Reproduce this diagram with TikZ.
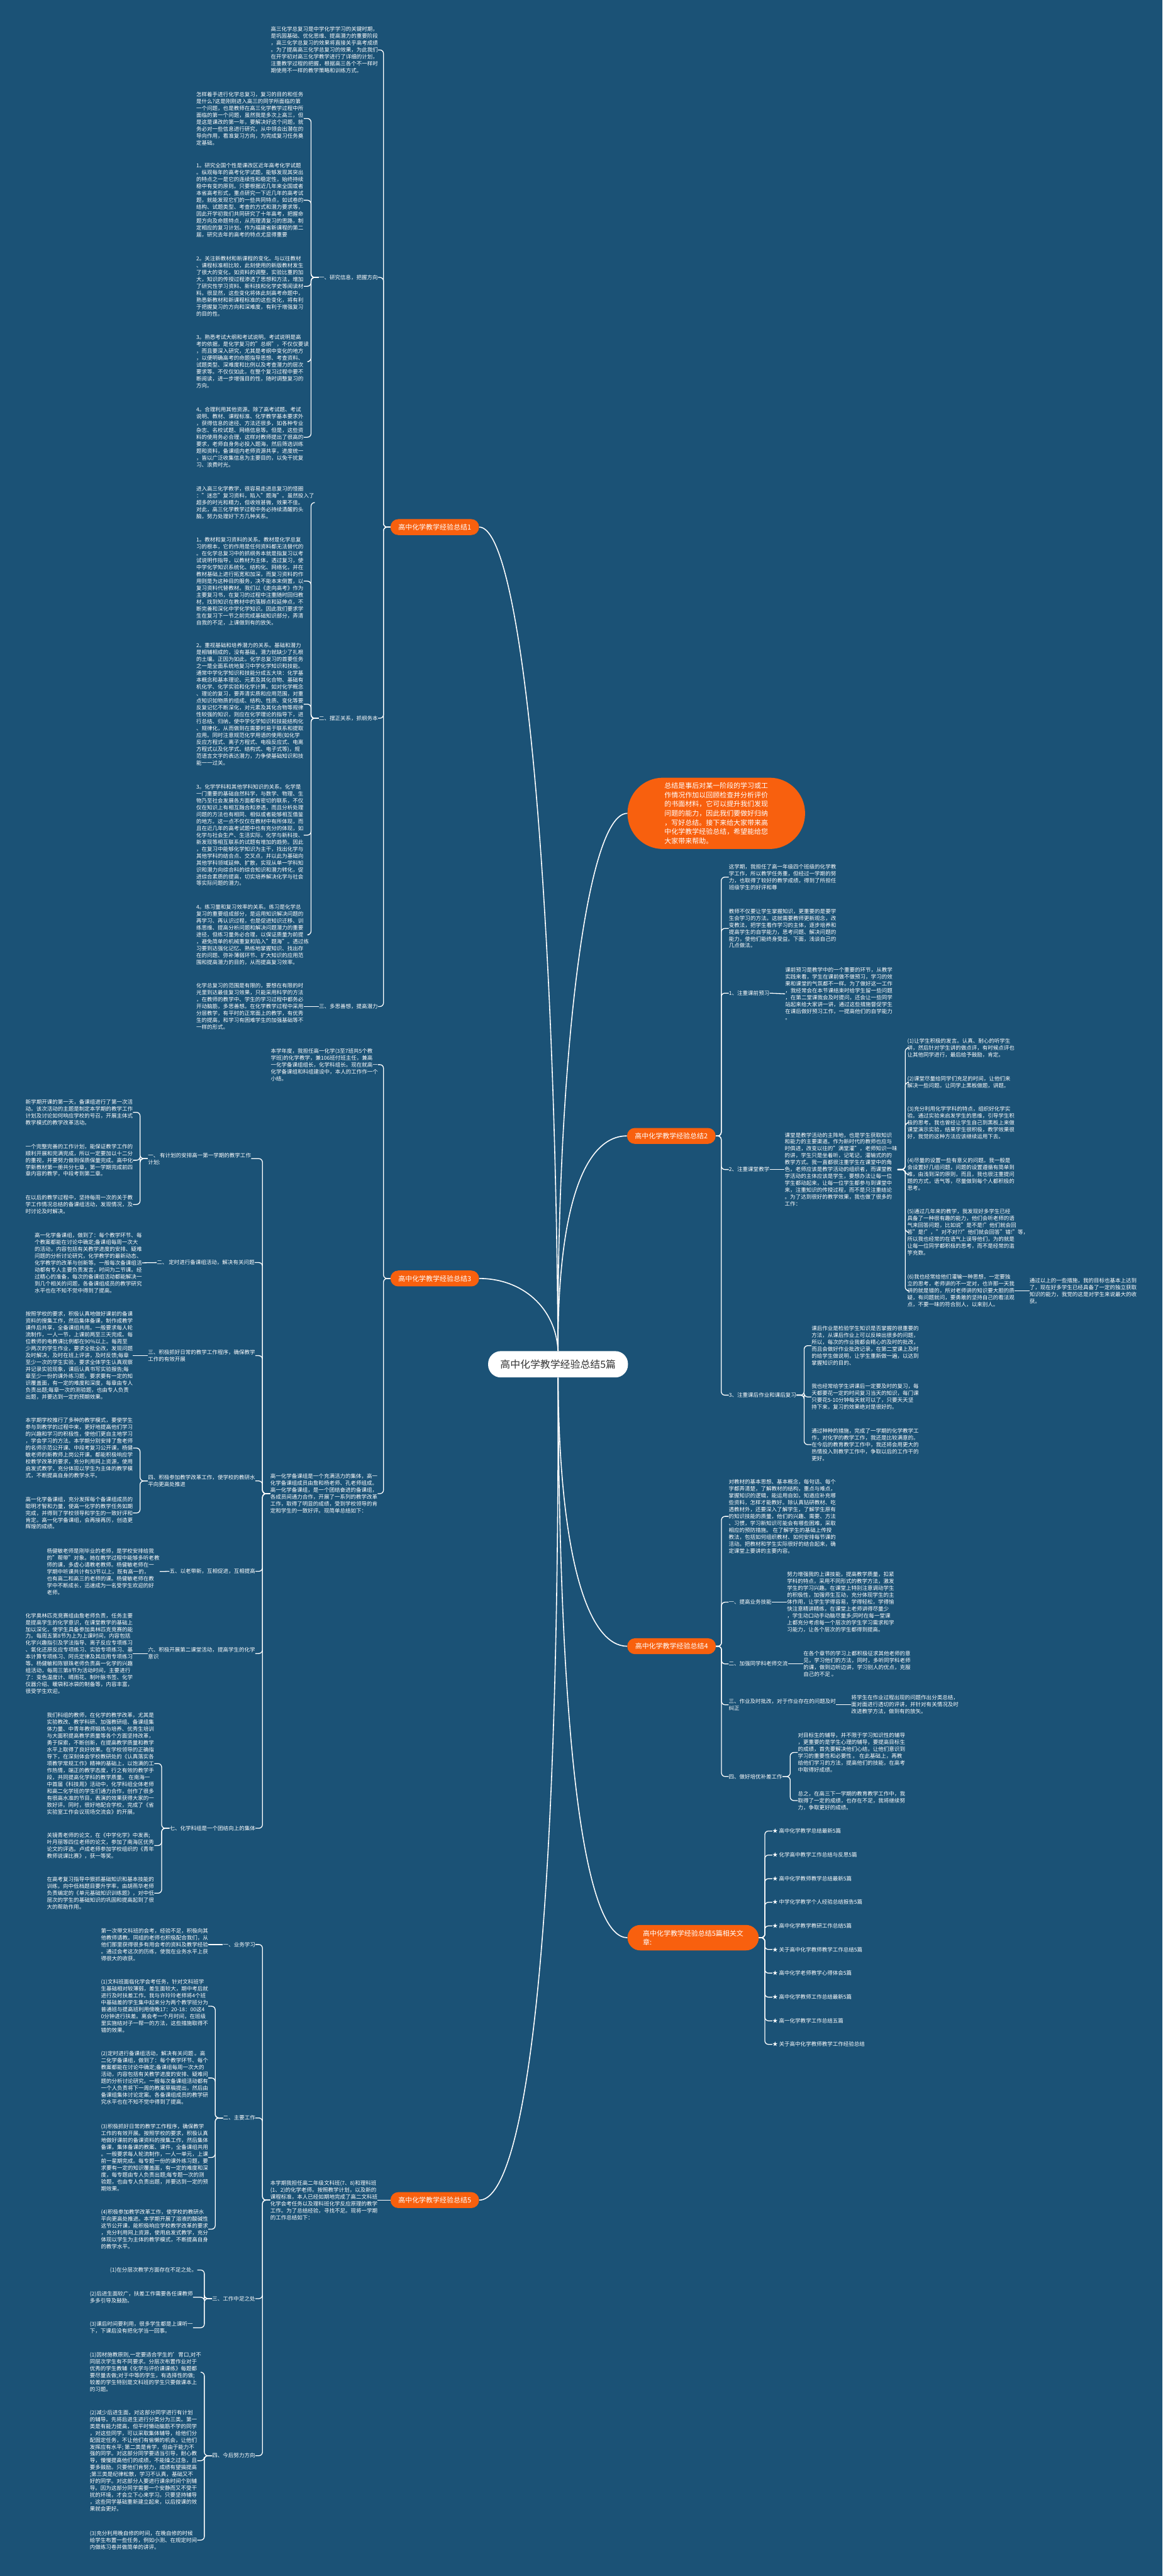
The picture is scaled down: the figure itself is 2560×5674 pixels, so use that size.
\documentclass[tikz,border=0pt]{standalone}
\usepackage{fontspec}
\setmainfont{Noto Sans CJK SC}
\definecolor{bg}{HTML}{1B5276}
\definecolor{org}{HTML}{F8600E}
\newcommand\fs{\fontsize{5.9}{7.6}\selectfont}
\newcommand\fp{\fontsize{7.6}{9.8}\selectfont}
\tikzset{
 txt/.style={font=\fs, text=white, align=left, inner sep=0pt, anchor=west},
 conn/.style={draw=white, line width=0.9pt, rounded corners=4pt},
 mainc/.style={draw=white, line width=1.1pt},
 pill/.style={fill=org, text=white, rounded corners=8.5pt, font=\fp, minimum width=97.5pt, minimum height=17.5pt, inner sep=0pt},
}
\begin{document}
\begin{tikzpicture}[x=0.5pt,y=-0.5pt]
\fill[bg] (0,0) rectangle (2560,5674);
\useasboundingbox (0,0) rectangle (2560,5674);

% centre
\node[fill=white, text=black!80, rounded corners=14pt, minimum width=154pt, minimum height=29pt, inner sep=0pt, font=\fontsize{11}{13}\selectfont] (C) at (1229,3005) {高中化学教学经验总结5篇};

% main branches
\node[pill] (S1) at (957.5,1161) {高中化学教学经验总结1};
\node[pill] (S2) at (1478.5,2502) {高中化学教学经验总结2};
\node[pill] (S3) at (957.5,2816) {高中化学教学经验总结3};
\node[pill] (S4) at (1479,3626) {高中化学教学经验总结4};
\node[pill] (S5) at (957.5,4846) {高中化学教学经验总结5};
\node[pill, minimum width=144.5pt, minimum height=28pt, rounded corners=14pt, align=left] (R) at (1526.5,4268) {高中化学教学经验总结5篇相关文\\章:};
\node[fill=org, text=white, rounded corners=39pt, minimum width=195.5pt, minimum height=78.5pt, inner sep=0pt, align=left, font=\fontsize{7.6}{10.1}\selectfont] (N) at (1577.5,1791.5) {总结是事后对某一阶段的学习或工\\作情况作加以回顾检查并分析评价\\的书面材料，它可以提升我们发现\\问题的能力，因此我们要做好归纳\\，写好总结。接下来给大家带来高\\中化学教学经验总结，希望能给您\\大家带来帮助。};

\draw[mainc] (C.north) .. controls (1222,1950) and (1150,1161) .. (S1.east);
\draw[mainc] (C.north) .. controls (1226,2350) and (1290,1791) .. (N.west);
\draw[mainc] (C.north) .. controls (1228,2650) and (1290,2502) .. (S2.west);
\draw[mainc] (C.north) .. controls (1224,2880) and (1150,2816) .. (S3.east);
\draw[mainc] (C.south) .. controls (1232,3450) and (1300,3626) .. (S4.west);
\draw[mainc] (C.south) .. controls (1232,3950) and (1300,4268) .. (R.west);
\draw[mainc] (C.south) .. controls (1232,4350) and (1150,4846) .. (S5.east);

% ================= Section 1
\node[txt] (s1i) at (596,110) {高三化学总复习是中学化学学习的关键时期，\\是巩固基础、优化思维、提高潜力的重要阶段\\，高三化学总复习的效果将直接关乎高考成绩\\。为了提高高三化学总复习的效果，为此我们\\在开学初对高三化学教学进行了详细的计划，\\注重教学过程的把握，根据高三各个不一样时\\期使用不一样的教学策略和训练方式。};
\node[txt] (s1l1) at (702,611) {一、研究信息，把握方向};
\node[txt] (s1l2) at (702,1582) {二、摆正关系，抓纲务本};
\node[txt] (s1l3) at (702,2217) {三、多思善想，提高潜力};
\foreach \c in {s1i,s1l1,s1l2,s1l3} \draw[conn] (S1.west) -- ++(-15,0) |- (\c.east);

\node[txt] (s1l1a) at (432,261) {怎样着手进行化学总复习，复习的目的和任务\\是什么?这是刚刚进入高三的同学所面临的第\\一个问题，也是教师在高三化学教学过程中所\\面临的第一个问题，虽然我是多次上高三，但\\是这是课改的第一年，要解决好这个问题，就\\务必对一些信息进行研究，从中领会出潜在的\\导向作用，看准复习方向，为完成复习任务奠\\定基础。};
\node[txt] (s1l1b) at (432,441) {1。研究全国个性是课改区近年高考化学试题\\。纵观每年的高考化学试题，能够发现其突出\\的特点之一是它的连续性和稳定性，始终持续\\稳中有变的原则。只要根据近几年来全国或者\\本省高考形式，重点研究一下近几年的高考试\\题，就能发现它们的一些共同特点，如试卷的\\结构、试题类型、考查的方式和潜力要求等，\\因此开学初我们共同研究了十年高考，把握命\\题方向及命题特点，从而理清复习的思路，制\\定相应的复习计划。作为福建省新课程的第二\\届，研究去年的高考的特点尤显得重要};
\node[txt] (s1l1c) at (432,630.5) {2。关注新教材和新课程的变化。与以往教材\\、课程标准相比较，此刻使用的新版教材发生\\了很大的变化，如资料的调整，实验比重的加\\大，知识的传授过程渗透了思想和方法，增加\\了研究性学习资料、新科技和化学史等阅读材\\料。很显然，这些变化将体此刻高考命题中，\\熟悉新教材和新课程标准的这些变化，将有利\\于把握复习的方向和深难度，有利于增强复习\\的目的性。};
\node[txt] (s1l1d) at (432,796.5) {3。熟悉考试大纲和考试说明。考试说明是高\\考的依据，是化学复习的"总纲"，不仅仅要读\\，而且要深入研究，尤其是考纲中变化的地方\\，以便明确高考的命题指导思想、考查资料、\\试题类型、深难度和比例以及考查潜力的层次\\要求等。不仅仅如此，在整个复习过程中要不\\断阅读，进一步增强目的性，随时调整复习的\\方向。};
\node[txt] (s1l1e) at (432,963) {4。合理利用其他资源。除了高考试题、考试\\说明、教材、课程标准、化学教学基本要求外\\，获得信息的途径、方法还很多，如各种专业\\杂志、名校试题、网络信息等。但是，这些资\\料的使用务必合理，这样对教师提出了很高的\\要求，老师自身务必投入题海，然后筛选训练\\题和资料，备课组内老师资源共享，进度统一\\，皆以广泛收集信息为主要目的，以免干扰复\\习、浪费时光。};
\foreach \c in {s1l1a,s1l1b,s1l1c,s1l1d,s1l1e} \draw[conn] (s1l1.west) -- ++(-17,0) |- (\c.east);

\node[txt] (s1l2a) at (432,1107) {进入高三化学教学，很容易走进总复习的怪圈\\："迷恋"复习资料，陷入"题海"。虽然投入了\\超多的时光和精力，但收效甚微，效果不佳。\\对此，高三化学教学过程中务必持续清醒的头\\脑，努力处理好下方几种关系。};
\node[txt] (s1l2b) at (432,1280) {1。教材和复习资料的关系。教材是化学总复\\习的根本，它的作用是任何资料都无法替代的\\。在化学总复习中的抓纲务本就是指复习以考\\试说明作指导，以教材为主体，透过复习，使\\中学化学知识系统化、结构化、网络化，并在\\教材基础上进行拓宽和加深，而复习资料的作\\用则是为这种目的服务，决不能本末倒置，以\\复习资料代替教材。我们以《走向高考》作为\\主要复习书，在复习的过程中注重随时回归教\\材，找到知识在教材中的落脚点和延伸点，不\\断完善和深化中学化学知识。因此我们要求学\\生在复习下一节之前完成基础知识部分，弄清\\自我的不足，上课做到有的放矢。};
\node[txt] (s1l2c) at (432,1551) {2。重视基础和培养潜力的关系。基础和潜力\\是相辅相成的，没有基础，潜力就缺少了扎根\\的土壤。正因为如此，化学总复习的首要任务\\之一是全面系统地复习中学化学知识和技能。\\通常中学化学知识和技能分成五大块：化学基\\本概念和基本理论、元素及其化合物、基础有\\机化学、化学实验和化学计算。如对化学概念\\、理论的复习，要弄清实质和应用范围，对重\\点知识如物质的组成、结构、性质、变化等要\\反复记忆不断深化，对元素及其化合物等规律\\性较强的知识，则应在化学理论的指导下，进\\行总结、归纳，使中学化学知识和技能结构化\\、规律化，从而做到在需要时易于联系和提取\\应用。同时注意规范化学用语的使用(如化学\\反应方程式、离子方程式、电极反应式、电离\\方程式以及化学式、结构式、电子式等)，规\\范语言文字的表达潜力，力争使基础知识和技\\能一一过关。};
\node[txt] (s1l2d) at (432,1839.5) {3。化学学科和其他学科知识的关系。化学是\\一门重要的基础自然科学，与数学、物理、生\\物乃至社会发展各方面都有密切的联系，不仅\\仅在知识上有相互融合和渗透，而且分析处理\\问题的方法也有相同、相似或者能够相互借鉴\\的地方。这一点不仅仅在教材中有所体现，而\\且在近几年的高考试题中也有充分的体现，如\\化学与社会生产、生活实际，化学与新科技、\\新发现等相互联系的试题有增加的趋势。因此\\，在复习中能够化学知识为主干，找出化学与\\其他学科的结合点、交叉点，并以此为基础向\\其他学科领域延伸、扩散，实现从单一学科知\\识和潜力向综合科的综合知识和潜力转化，促\\进综合素质的提高，切实培养解决化学与社会\\等实际问题的潜力。};
\node[txt] (s1l2e) at (432,2059) {4。练习量和复习效率的关系。练习是化学总\\复习的重要组成部分，是运用知识解决问题的\\再学习、再认识过程，也是促进知识迁移、训\\练思维、提高分析问题和解决问题潜力的重要\\途径，但练习量务必合理，以保证质量为前提\\，避免简单的机械重复和陷入"题海"。透过练\\习要到达强化记忆、熟练地掌握知识、找出存\\在的问题、弥补薄弱环节、扩大知识的应用范\\围和提高潜力的目的，从而提高复习效率。};
\foreach \c in {s1l2a,s1l2b,s1l2c,s1l2d,s1l2e} \draw[conn] (s1l2.west) -- ++(-17,0) |- (\c.east);

\node[txt] (s1l3a) at (432,2217) {化学总复习的范围是有限的，要想在有限的时\\光里到达最佳复习效果，只能采用科学的方法\\，在教师的教学中、学生的学习过程中都务必\\开动脑筋，多思善想。在化学教学过程中采用\\分层教学，有平时的正常面上的教学，有优秀\\生的提高，和学习有困难学生的加强基础等不\\一样的形式。};
\draw[conn] (s1l3.west) -- (s1l3a.east);

% ================= Section 3
\node[txt] (s3t) at (596,2345) {本学年度，我担任高一化学(3至7班共5个教\\学班)的化学教学，兼106班付班主任，兼高\\一化学备课组组长，化学科组长。现在就高一\\化学备课组和科组建设中，本人的工作作一个\\小结。};
\node[txt] (s3b) at (595,3290) {高一化学备课组是一个充满活力的集体，高一\\化学备课组成员由詹和杨老师、孔老师组成。\\高一化学备课组，是一个团结奋进的备课组，\\各成员间通力合作，开展了一系列的教学改革\\工作，取得了明显的成绩，受到学校领导的肯\\定和学生的一致好评。现简单总结如下：};
\foreach \c in {s3t,s3b} \draw[conn] (S3.west) -- ++(-15,0) |- (\c.east);

\node[txt] (s3l1) at (325.5,2552) {一、 有计划的安排高一第一学期的教学工作\\计划:};
\node[txt] (s3l2) at (345,2781) {二、 定时进行备课组活动，解决有关问题};
\node[txt] (s3l3) at (325.5,2986) {三、积极抓好日常的教学工作程序，确保教学\\工作的有效开展};
\node[txt] (s3l4) at (325.5,3262) {四、积极参加教学改革工作，使学校的教研水\\平向更高处推进};
\node[txt] (s3l5) at (373,3461) {五、以老带新，互相促进，互相提高};
\node[txt] (s3l6) at (325.5,3642) {六、积极开展第二课堂活动，提高学生的化学\\意识};
\node[txt] (s3l7) at (373,4027) {七、化学科组是一个团结向上的集体};
\foreach \c in {s3l1,s3l2,s3l3,s3l4,s3l5,s3l6,s3l7} \draw[conn] (s3b.west) -- ++(-17,0) |- (\c.east);

\node[txt] (s3l1a) at (56,2450) {新学期开课的第一天，备课组进行了第一次活\\动。该次活动的主题是制定本学期的教学工作\\计划及讨论如何响应学校的号召，开展主体式\\教学模式的教学改革活动。};
\node[txt] (s3l1b) at (56,2555.6) {一个完整完善的工作计划，能保证教学工作的\\顺利开展和完满完成，所以一定要加以十二分\\的重视，并要努力做到保质保量完成。高中化\\学新教材第一册共分七章，第一学期完成前四\\章内容的教学，中段考到第二章。};
\node[txt] (s3l1c) at (56,2653) {在以后的教学过程中，坚持每周一次的关于教\\学工作情况总结的备课组活动，发现情况，及\\时讨论及时解决。};
\foreach \c in {s3l1a,s3l1b,s3l1c} \draw[conn] (s3l1.west) -- ++(-17,0) |- (\c.east);

\node[txt] (s3l2a) at (76,2781.5) {高一化学备课组，做到了：每个教学环节、每\\个教案都能在讨论中确定;备课组每周一次大\\的活动，内容包括有关教学进度的安排、疑难\\问题的分析讨论研究，化学教学的最新动态、\\化学教学的改革与创新等。一般每次备课组活\\动都有专人主要负责发言，时间为二节课。经\\过精心的准备，每次的备课组活动都能解决一\\到几个相关的问题，各备课组成员的教学研究\\水平也在不知不觉中得到了提高。};
\draw[conn] (s3l2.west) -- (s3l2a.east);

\node[txt] (s3l3a) at (56,2986) {按照学校的要求，积极认真地做好课前的备课\\资料的搜集工作，然后集体备课，制作成教学\\课件后共享，全备课组共用。一般要求每人轮\\流制作，一人一节，上课前两至三天完成。每\\位教师的电教课比例都在90\%以上。每周至\\少两次的学生作业，要求全批全改，发现问题\\及时解决，及时在班上评讲，及时反馈;每章\\至少一次的学生实验，要求全体学生认真观察\\并记录实验现象，课后认真书写实验报告;每\\章至少一份的课外练习题，要求要有一定的知\\识覆盖面，有一定的难度和深度，每章由专人\\负责出题;每章一次的测验题，也由专人负责\\出题，并要达到一定的预期效果。};
\draw[conn] (s3l3.west) -- (s3l3a.east);

\node[txt] (s3l4a) at (56,3189.5) {本学期学校推行了多种的教学模式，要使学生\\参与到教学的过程中来，更好地提高他们学习\\的兴趣和学习的积极性，使他们更自主地学习\\，学会学习的方法。本学期分别安排了詹老师\\的名师示范公开课、中段考复习公开课，杨健\\敏老师的新教师上岗公开课。都能积极响应学\\校教学改革的要求，充分利用网上资源，使用\\启发式教学，充分体现以学生为主体的教学模\\式，不断提高自身的教学水平。};
\node[txt] (s3l4b) at (56,3332.6) {高一化学备课组，充分发挥每个备课组成员的\\聪明才智和力量，使高一化学的教学任务如期\\完成，并得到了学校领导和学生的一致好评和\\肯定。高一化学备课组，会再接再厉，创造更\\辉煌的成绩。};
\foreach \c in {s3l4a,s3l4b} \draw[conn] (s3l4.west) -- ++(-17,0) |- (\c.east);

\node[txt] (s3l5a) at (103,3461.5) {杨健敏老师是刚毕业的老师，是学校安排给我\\的"帮带"对象。她在教学过程中能够多听老教\\师的课，多虚心请教老教师。杨健敏老师在一\\学期中听课共计有53节以上，既有高一的，\\也有高二和高三的老师的课。杨健敏老师在教\\学中不断成长，迅速成为一名受学生欢迎的好\\老师。};
\draw[conn] (s3l5.west) -- (s3l5a.east);

\node[txt] (s3l6a) at (56,3642) {化学奥林匹克竞赛组由詹老师负责，任务主要\\是提高学生的化学意识，在课堂教学的基础上\\加以深化，使学生具备参加奥林匹克竞赛的能\\力。每周五第8节为上为上课时间，内容包括\\化学兴趣指引及学法指导、离子反应专项练习\\、氧化还原反应专项练习、实验专项练习、基\\本计算专项练习、阿氏定律及其应用专项练习\\等。杨健敏和陈银珠老师负责高一化学的兴趣\\组活动，每周三第8节为活动时间，主要进行\\了：变色温度计、晴雨花、制叶脉书签、化学\\仪器介绍、暖袋和冰袋的制备等，内容丰富，\\很受学生欢迎。};
\draw[conn] (s3l6.west) -- (s3l6a.east);

\node[txt] (s3l7a) at (103,3884.5) {我们科组的教师，在化学的教学改革，尤其是\\实验教改、教学科研、加强教研组、备课组集\\体力量、中青年教师锻炼与培养、优秀生培训\\与大面积提高教学质量等各个方面坚持改革，\\勇于探索，不断创新，在提高教学质量和教学\\水平上取得了良好效果。在学校领导的正确指\\导下，在深刻体会学校教研处的《认真落实各\\项教学常规工作》精神的基础上，以饱满的工\\作热情，端正的教学态度，行之有效的教学手\\段，共同提高化学科的教学质量。 在南海一\\中首届《科技周》活动中，化学科组全体老师\\和高二化学班的学生们通力合作，创作了很多\\有很高水准的节目，表演的效果获得大家的一\\致好评。同时，很好地配合学校，完成了《省\\实验室工作会议现场交流会》的开展。};
\node[txt] (s3l7b) at (103,4065) {关镜青老师的论文，在《中学化学》中发表;\\叶月丽等四位老师的论文，参加了南海区优秀\\论文的评选。卢成老师参加学校组织的《青年\\教师说课比赛》，获一等奖。};
\node[txt] (s3l7c) at (103,4170) {在高考复习指导中狠抓基础知识和基本技能的\\训练，向中低档题目要升学率，由胡燕华老师\\负责编定的《单元基础知识训练题》，对中低\\层次的学生的基础知识的巩固和提高起到了很\\大的帮助作用。};
\foreach \c in {s3l7a,s3l7b,s3l7c} \draw[conn] (s3l7.west) -- ++(-17,0) |- (\c.east);

% ================= Section 5
\node[txt] (s5b) at (595,4846) {本学期我担任高二年级文科班(7、8)和理科班\\(1、2)的化学老师。按照教学计划，以及新的\\课程标准，本人已经如期地完成了高二文科班\\化学会考任务以及理科班化学反应原理的教学\\工作。为了总结经验，寻找不足。现将一学期\\的工作总结如下：};
\draw[conn] (S5.west) -- (s5b.east);

\node[txt] (s5l1) at (491,4283) {一、业务学习};
\node[txt] (s5l2) at (491,4665) {二、主要工作};
\node[txt] (s5l3) at (467,5063) {三、工作中足之处};
\node[txt] (s5l4) at (467,5409) {四、今后努力方向};
\foreach \c in {s5l1,s5l2,s5l3,s5l4} \draw[conn] (s5b.west) -- ++(-17,0) |- (\c.east);

\node[txt] (s5l1a) at (222,4283) {第一次带文科班的会考，经验不足，积极向其\\他教师请教。同组的老师也积极配合我们，从\\他们那里获得很多有用会考的资料及教学经验\\。通过会考这次的历练，使我在业务水平上获\\得很大的收获。};
\draw[conn] (s5l1.west) -- (s5l1a.east);

\node[txt] (s5l2a) at (222,4419) {(1)文科班面临化学会考任务，针对文科班学\\生基础相对较薄弱，差生面较大，期中考后就\\进行及时扶差工作。我与许玲玲老师将4个班\\中基础差的学生集中起来分为两个教学班分为\\普通班与提高班利用傍晚17：20-18：00这4\\0分钟进行扶差。离会考一个月时间，在班级\\里实施结对子一帮一的方法，这些措施取得不\\错的效果。};
\node[txt] (s5l2b) at (222,4577) {(2)定时进行备课组活动，解决有关问题 。高\\二化学备课组，做到了：每个教学环节、每个\\教案都能在讨论中确定;备课组每周一次大的\\活动，内容包括有关教学进度的安排、疑难问\\题的分析讨论研究。一般每次备课组活动都有\\一个人负责将下一周的教案草稿提出，然后由\\备课组集体讨论定案。各备课组成员的教学研\\究水平也在不知不觉中得到了提高。};
\node[txt] (s5l2c) at (222,4752) {(3)积极抓好日常的教学工作程序，确保教学\\工作的有效开展。按照学校的要求，积极认真\\地做好课前的备课资料的搜集工作，然后集体\\备课，集体备课的教案、课件，全备课组共用\\。一般要求每人轮流制作，一人一单元，上课\\前一星期完成。每专题一份的课外练习题，要\\求要有一定的知识覆盖面，有一定的难度和深\\度，每专题由专人负责出题;每专题一次的测\\验题，也由专人负责出题，并要达到一定的预\\期效果。};
\node[txt] (s5l2d) at (222,4910) {(4)积极参加教学改革工作，使学校的教研水\\平向更高处推进。本学期开展了溶液的酸碱性\\这节公开课，能积极响应学校教学改革的要求\\，充分利用网上资源，使用启发式教学，充分\\体现以学生为主体的教学模式，不断提高自身\\的教学水平。};
\foreach \c in {s5l2a,s5l2b,s5l2c,s5l2d} \draw[conn] (s5l2.west) -- ++(-17,0) |- (\c.east);

\node[txt] (s5l3a) at (242,5000) {(1)在分层次教学方面存在不足之处。};
\node[txt] (s5l3b) at (197.5,5060) {(2)后进生面较广，扶差工作需要各任课教师\\多多引导及鼓励。};
\node[txt] (s5l3c) at (197.5,5127) {(3)课后时间要利用，很多学生都是上课听一\\下，下课后没有把化学当一回事。};
\foreach \c in {s5l3a,s5l3b,s5l3c} \draw[conn] (s5l3.west) -- ++(-17,0) |- (\c.east);

\node[txt] (s5l4a) at (197.5,5225) {(1)因材施教原则,一定要适合学生的'胃口,对不\\同层次学生有不同要求。分层次布置作业对于\\优秀的学生教辅《化学与评价课课练》每题都\\要尽量去做;对于中等的学生，有选择性的做;\\较差的学生特别是文科班的学生只要做课本上\\的习题。};
\node[txt] (s5l4b) at (197.5,5420) {(2)减少后进生面，对这部分同学进行有计划\\的辅导。先将后进生进行分类分为三类。第一\\类是有能力提高，但平时懒动脑筋不学的同学\\，对这些同学，可以采取集体辅导，给他们分\\配固定任务，不让他们有偷懒的机会，让他们\\发挥应有水平; 第二类是肯学，但由于能力不\\强的同学。对这部分同学要适当引导，耐心教\\导，慢慢提高他们的成绩，不能操之过急，且\\要多鼓励。只要他们肯努力，成绩有望搞提高\\;第三类是纪律松散，学习不认真，基础又不\\好的同学。对这部分人要进行课余时间个别辅\\导。因为这部分同学需要一个安静而又不受干\\扰的环境，才会立下心来学习。只要坚持辅导\\，这些同学基础重新建立起来，以后授课的效\\果就会更好。};
\node[txt] (s5l4c) at (197.5,5595) {(3)充分利用晚自修的时间，在晚自修的时候\\给学生布置一些任务，例如小测、在规定时间\\内做练习卷并做简单的讲评。};
\foreach \c in {s5l4a,s5l4b,s5l4c} \draw[conn] (s5l4.west) -- ++(-17,0) |- (\c.east);

% ================= Section 2
\node[txt] (s2a) at (1605,1932) {这学期，我担任了高一年级四个班级的化学教\\学工作，所以教学任务重，但经过一学期的努\\力，也取得了较好的教学成绩，得到了所担任\\班级学生的好评和尊};
\node[txt] (s2b) at (1605,2045) {教师不仅要让学生掌握知识，更重要的是要学\\生会学习的方法。这就需要教师更新观念，改\\变教法，把学生看作学习的主体，逐步培养和\\提高学生的自学能力，思考问题、解决问题的\\能力，使他们能终身受益。下面，浅谈自己的\\几点做法。};
\node[txt] (s2l1) at (1605,2187.5) {1、注重课前预习};
\node[txt] (s2l2) at (1605,2576) {2、注重课堂教学};
\node[txt] (s2l3) at (1605,3073) {3、注重课后作业和课后复习};
\foreach \c in {s2a,s2b,s2l1,s2l2,s2l3} \draw[conn] (S2.east) -- ++(12,0) |- (\c.west);

\node[txt] (s2l1a) at (1729,2189) {课前预习是教学中的一个重要的环节，从教学\\实践来看，学生在课前做不做预习，学习的效\\果和课堂的气氛都不一样。为了做好这一工作\\，我经常会在本节课结束时给学生留一些问题\\，在第二堂课我会及时提问，还会让一些同学\\站起来给大家讲一讲，通过这些措施督促学生\\在课后做好预习工作，一提高他们的自学能力\\。};
\draw[conn] (s2l1.east) -- (s2l1a.west);

\node[txt] (s2l2a) at (1728,2576) {课堂是教学活动的主阵地，也是学生获取知识\\和能力的主要渠道。作为新时代的教师也应与\\时俱进，改变以往的"满堂灌"，老师知识一味\\的讲，学生只是坐着听，记笔记，灌输式的的\\教学方式。我一直都很注重学生在课堂中的角\\色，老师应该是教学活动的组织者，而课堂教\\学活动的主体应该是学生，要想办法让每一位\\学生都动起来，让每一位学生都参与到课堂中\\来，注重知识的传授过程，而不是只注重结论\\。为了达到很好的教学效果，我也做了很多的\\工作：};
\draw[conn] (s2l2.east) -- (s2l2a.west);

\node[txt] (s2i1) at (1998,2308) {(1)让学生积极的发言。认真、耐心的听学生\\讲，然后针对学生讲的做点评，有时候点评也\\让其他同学进行，最后给予鼓励，肯定。};
\node[txt] (s2i2) at (1998,2384) {(2)课堂尽量给同学们充足的时间，让他们来\\解决一些问题。让同学上黑板做题，讲题。};
\node[txt] (s2i3) at (1998,2473) {(3)充分利用化学学科的特点，组织好化学实\\验。通过实验来启发学生的思维，引导学生积\\极的思考。我也曾经让学生自己到黑板上来做\\课堂演示实验，结果学生很积极，教学效果很\\好，我觉的这种方法应该继续运用下去。};
\node[txt] (s2i4) at (1998,2587) {(4)尽量的设置一些有意义的问题。我一般是\\会设置好几组问题，问题的设置遵循有简单到\\难，由浅到深的原则，而且，我也很注重提问\\题的方式，语气等，尽量做到每个人都积极的\\思考。};
\node[txt] (s2i5) at (1998,2714) {(5)通过几年来的教学，我发现好多学生已经\\具备了一种很有趣的能力，他们会听老师的语\\气来回答问题，比如说"是不是!"他们就会回\\答"是!"，"对不对??"他们就会回答"错!"等，\\所以我也经常的在语气上误导他们，为的就是\\让每一位同学都积极的思考，而不是经常的滥\\竽充数。};
\node[txt] (s2i6) at (1998,2843) {(6)我也经常给他们灌输一种思想，一定要独\\立的思考，老师讲的不一定对，也许那一天我\\讲的就是错的，所对老师讲的知识要大胆的质\\疑，有问题就问，要勇敢的坚持自己的看法观\\点，不要一味的符合别人，以来别人。};
\foreach \c in {s2i1,s2i2,s2i3,s2i4,s2i5,s2i6} \draw[conn] (s2l2a.east) -- ++(17,0) |- (\c.west);

\node[txt] (s2i6a) at (2267,2843) {通过以上的一些措施，我的目标也基本上达到\\了，现在好多学生已经具备了一定的独立获取\\知识的能力，我觉的这是对学生来说最大的收\\获。};
\draw[conn] (s2i6.east) -- (s2i6a.west);

\node[txt] (s2l3a) at (1787,2964) {课后作业是检验学生知识是否掌握的很重要的\\方法，从课后作业上可以反映出很多的问题，\\所以，每次的作业我都会精心的及时的批改，\\而且会做好作业批改记录，在第二堂课上及时\\的给学生做说明，让学生重新做一遍，以达到\\掌握知识的目的、};
\node[txt] (s2l3b) at (1787,3077) {我也经常给学生讲课后一定要及时的复习，每\\天都要花一定的时间复习当天的知识，每门课\\只要花5-10分钟每天就可以了，只要天天坚\\持下来，复习的效果绝对是很好的。};
\node[txt] (s2l3c) at (1787,3182) {通过种种的措施，完成了一学期的化学教学工\\作，对化学的教学工作，我还是比较满意的。\\在今后的教育教学工作中，我还将会用更大的\\热情投入到教学工作中，争取以后的工作干的\\更好。};
\foreach \c in {s2l3a,s2l3b,s2l3c} \draw[conn] (s2l3.east) -- ++(17,0) |- (\c.west);

% ================= Section 4
\node[txt] (s4a) at (1604.5,3340) {对教材的基本思想、基本概念，每句话、每个\\字都弄清楚，了解教材的结构，重点与难点，\\掌握知识的逻辑，能运用自如，知道应补充哪\\些资料，怎样才能教好。除认真钻研教材、吃\\透教材外，还要深入了解学生，了解学生原有\\的知识技能的质量，他们的兴趣、需要、方法\\、习惯，学习新知识可能会有哪些困难，采取\\相应的预防措施。 在了解学生的基础上传授\\教法，包括如何组织教材、如何安排每节课的\\活动。把教材和学生实际很好的结合起来，确\\定课堂上要讲的主要内容。};
\node[txt] (s4l1) at (1604.5,3529) {一、提高业务技能};
\node[txt] (s4l2) at (1604.5,3665) {二、加强同学科老师交流};
\node[txt] (s4l3) at (1604.5,3755) {三、作业及时批改，对于作业存在的问题及时\\纠正};
\node[txt] (s4l4) at (1604.5,3913) {四、做好培优补差工作};
\foreach \c in {s4a,s4l1,s4l2,s4l3,s4l4} \draw[conn] (S4.east) -- ++(12,0) |- (\c.west);

\node[txt] (s4l1a) at (1733,3529) {努力增强我的上课技能，提高教学质量，扣紧\\学科的特点，采用不同形式的教学方法，激发\\学生的学习兴趣。在课堂上特别注意调动学生\\的积极性，加强师生互动，充分体现学生的主\\体作用，让学生学得容易，学得轻松，学得愉\\快注意精讲精练，在课堂上老师讲得尽量少\\，学生动口动手动脑尽量多;同时在每一堂课\\上都充分考虑每一个层次的学生学习需求和学\\习能力，让各个层次的学生都得到提高。};
\draw[conn] (s4l1.east) -- (s4l1a.west);
\node[txt] (s4l2a) at (1769,3665) {在各个章节的学习上都积极征求其他老师的意\\见，学习他们的方法，同时，多听同学科老师\\的课，做到边听边讲，学习别人的优点，克服\\自己的不足 。};
\draw[conn] (s4l2.east) -- (s4l2a.west);
\node[txt] (s4l3a) at (1874.5,3755) {将学生在作业过程出现的问题作出分类总结，\\面对面进行透切的评讲，并针对有关情况及时\\改进教学方法，做到有的放矢。};
\draw[conn] (s4l3.east) -- (s4l3a.west);
\node[txt] (s4l4a) at (1757,3860) {对目标生的辅导，并不限于学习知识性的辅导\\，更重要的是学生心理的辅导，要提高目标生\\的成绩，首先要解决他们心结，让他们意识到\\学习的重要性和必要性 。 在此基础上，再教\\给他们学习的方法，提高他们的技能，在高考\\中取得好成绩。};
\node[txt] (s4l4b) at (1757,3966) {总之，在高三下一学期的教育教学工作中，我\\取得了一定的成绩，也存在不足，我将继续努\\力，争取更好的成绩。};
\foreach \c in {s4l4a,s4l4b} \draw[conn] (s4l4.east) -- ++(17,0) |- (\c.west);

% ================= Related
\node[txt] (r1) at (1701,4033) {★ 高中化学教学总结最新5篇};
\node[txt] (r2) at (1701,4086) {★ 化学高中教学工作总结与反思5篇};
\node[txt] (r3) at (1701,4138) {★ 高中化学教师教学总结最新5篇};
\node[txt] (r4) at (1701,4190) {★ 中学化学教学个人经验总结报告5篇};
\node[txt] (r5) at (1701,4242) {★ 高中化学教学教研工作总结5篇};
\node[txt] (r6) at (1701,4294) {★ 关于高中化学教师教学工作总结5篇};
\node[txt] (r7) at (1701,4346) {★ 高中化学老师教学心得体会5篇};
\node[txt] (r8) at (1701,4399) {★ 高中化学教师工作总结最新5篇};
\node[txt] (r9) at (1701,4451) {★ 高一化学教学工作总结五篇};
\node[txt] (r10) at (1701,4503) {★ 关于高中化学教师教学工作经验总结};
\foreach \c in {r1,r2,r3,r4,r5,r6,r7,r8,r9,r10} \draw[conn] (R.east) -- ++(13,0) |- (\c.west);
\end{tikzpicture}
\end{document}
